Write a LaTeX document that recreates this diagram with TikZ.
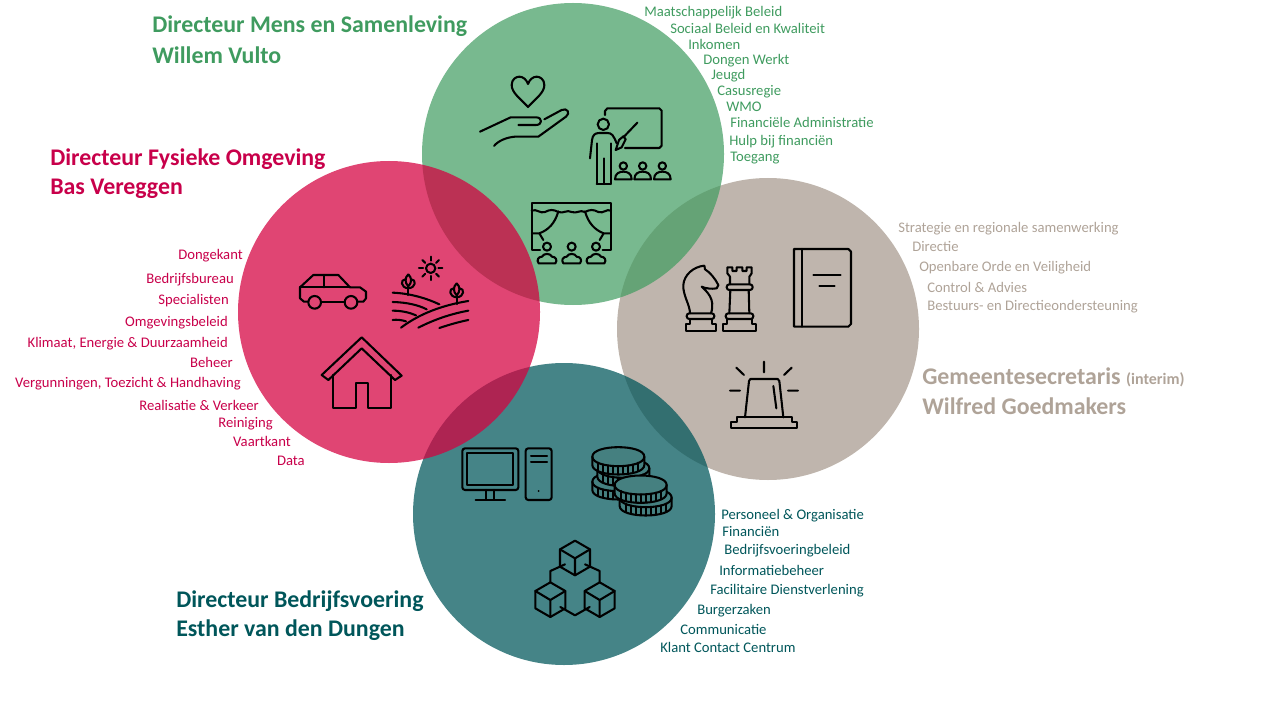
\documentclass[tikz,border=0pt]{standalone}
\usepackage{fontspec}
\setmainfont{Carlito}
\definecolor{mensgreen}{HTML}{3F9B5F}
\definecolor{fysiekred}{HTML}{C8004A}
\definecolor{fysiekfill}{HTML}{D4003F}
\definecolor{secrgray}{HTML}{AFA398}
\definecolor{bvteal}{HTML}{00565A}
\definecolor{coinfill}{HTML}{458080}
\tikzstyle{icon} = [line width=1.55pt, draw=black, line join=round, line cap=round]
\tikzstyle{title} = [anchor=west, inner sep=0pt, yshift=-1.2pt, font=\fontsize{17.9}{20}\selectfont\bfseries]
\tikzstyle{item} = [inner sep=0pt, yshift=-1.9pt, font=\fontsize{11}{13}\selectfont, text height=6.5pt, text depth=1.5pt]
\newcommand{\coin}[2]{%
  \draw[icon, fill=coinfill] (#1-78,#2) .. controls (#1-78,#2-38) and (#1+78,#2-38) .. (#1+78,#2)
    -- (#1+78,#2+25) .. controls (#1+78,#2+63) and (#1-78,#2+63) .. (#1-78,#2+25) -- cycle;
  \draw[icon] (#1-78,#2) .. controls (#1-78,#2+38) and (#1+78,#2+38) .. (#1+78,#2);
  \foreach \t in {-60,-45,-30,-15,0,15,30,45,60}
    \draw[icon] ({#1+\t},{#2+28*sqrt(1-(\t/78)^2)}) -- ({#1+\t},{#2+25+28*sqrt(1-(\t/78)^2)});
}
\newcommand{\person}[1]{%
  \draw[icon] (#1,318) circle[radius=11];
  \draw[icon] (#1-25,358) .. controls (#1-25,340) and (#1-12,335) .. (#1,335) .. controls (#1+12,335) and (#1+25,340) .. (#1+25,358) -- cycle;
}
\newcommand{\viewer}[1]{%
  \draw[icon] (#1,560) circle[radius=12];
  \draw[icon] (#1-25,610) .. controls (#1-33,600) and (#1-25,590) .. (#1-15,590) .. controls (#1-10,579) and (#1+10,579) .. (#1+15,590) .. controls (#1+25,590) and (#1+33,600) .. (#1+25,610) -- cycle;
}
\newcommand{\plant}[2]{%
  \draw[icon] (#1,#2+62) -- (#1,#2+36);
  \draw[icon] (#1,#2) .. controls (#1-11,#2+10) and (#1-11,#2+25) .. (#1,#2+36) .. controls (#1+11,#2+25) and (#1+11,#2+10) .. (#1,#2);
  \draw[icon] (#1-9,#2+15) .. controls (#1-24,#2+15) and (#1-24,#2+40) .. (#1,#2+42) .. controls (#1+24,#2+40) and (#1+24,#2+15) .. (#1+9,#2+15);
}
\newcommand{\cube}[2]{%
  \draw[icon] (#1,#2-53) -- (#1+45,#2-27) -- (#1+45,#2+25) -- (#1,#2+51) -- (#1-45,#2+25) -- (#1-45,#2-27) -- cycle;
  \draw[icon] (#1-45,#2-27) -- (#1,#2) -- (#1+45,#2-27) (#1,#2) -- (#1,#2+51);
}
\begin{document}
\begin{tikzpicture}[x=0.75pt, y=-0.75pt]
  \useasboundingbox (0,0) rectangle (1276,720);

  % Circles
  \fill[secrgray, fill opacity=0.8] (768,329) circle[radius=151];
  \fill[bvteal, fill opacity=0.73] (564,514) circle[radius=151];
  \fill[mensgreen, fill opacity=0.7] (573,154) circle[radius=151];
  \fill[fysiekfill, fill opacity=0.73] (389,312) circle[radius=151];

  % Titles
  \node (mens1) [title, text=mensgreen] at (152,25) {Directeur Mens en Samenleving};
  \node (mens2) [title, text=mensgreen] at (152,54) {Willem Vulto};
  \node (fys1) [title, text=fysiekred] at (50,158) {Directeur Fysieke Omgeving};
  \node (fys2) [title, text=fysiekred] at (50,187) {Bas Vereggen};
  \node (secr1) [title, text=secrgray] at (922,376) {Gemeentesecretaris {\fontsize{12}{14}\selectfont(interim)}};
  \node (secr2) [title, text=secrgray] at (922,405) {Wilfred Goedmakers};
  \node (bv1) [title, text=bvteal] at (176,600) {Directeur Bedrijfsvoering};
  \node (bv2) [title, text=bvteal] at (176,629) {Esther van den Dungen};

  % Green list
  \node (g1) [item, anchor=west, text=mensgreen] at (644,11) {Maatschappelijk Beleid};
  \node (g2) [item, anchor=west, text=mensgreen] at (670,28) {Sociaal Beleid en Kwaliteit};
  \node (g3) [item, anchor=west, text=mensgreen] at (688,44) {Inkomen};
  \node (g4) [item, anchor=west, text=mensgreen] at (703,59) {Dongen Werkt};
  \node (g5) [item, anchor=west, text=mensgreen] at (711,74) {Jeugd};
  \node (g6) [item, anchor=west, text=mensgreen] at (717,90) {Casusregie};
  \node (g7) [item, anchor=west, text=mensgreen] at (726,106) {WMO};
  \node (g8) [item, anchor=west, text=mensgreen] at (730,122) {Financiële Administratie};
  \node (g9) [item, anchor=west, text=mensgreen] at (729,140) {Hulp bij financiën};
  \node (g10) [item, anchor=west, text=mensgreen] at (730,156) {Toegang};

  % Red list
  \node (r1) [item, anchor=east, text=fysiekred] at (243,254) {Dongekant};
  \node (r2) [item, anchor=east, text=fysiekred] at (234,278) {Bedrijfsbureau};
  \node (r3) [item, anchor=east, text=fysiekred] at (229,299) {Specialisten};
  \node (r4) [item, anchor=east, text=fysiekred] at (228,321) {Omgevingsbeleid};
  \node (r5) [item, anchor=east, text=fysiekred] at (228,342) {Klimaat, Energie \& Duurzaamheid};
  \node (r6) [item, anchor=east, text=fysiekred] at (233,362) {Beheer};
  \node (r7) [item, anchor=east, text=fysiekred] at (241,382) {Vergunningen, Toezicht \& Handhaving};
  \node (r8) [item, anchor=east, text=fysiekred] at (259,405) {Realisatie \& Verkeer};
  \node (r9) [item, anchor=east, text=fysiekred] at (273,422) {Reiniging};
  \node (r10) [item, anchor=east, text=fysiekred] at (291,441) {Vaartkant};
  \node (r11) [item, anchor=east, text=fysiekred] at (305,460) {Data};

  % Gray list
  \node (s1) [item, anchor=west, text=secrgray] at (898,227) {Strategie en regionale samenwerking};
  \node (s2) [item, anchor=west, text=secrgray] at (912,246) {Directie};
  \node (s3) [item, anchor=west, text=secrgray] at (919,266) {Openbare Orde en Veiligheid};
  \node (s4) [item, anchor=west, text=secrgray] at (927,287) {Control \& Advies};
  \node (s5) [item, anchor=west, text=secrgray] at (927,305) {Bestuurs- en Directieondersteuning};

  % Teal list
  \node (b1) [item, anchor=west, text=bvteal] at (721,514) {Personeel \& Organisatie};
  \node (b2) [item, anchor=west, text=bvteal] at (722,531) {Financiën};
  \node (b3) [item, anchor=west, text=bvteal] at (724,549) {Bedrijfsvoeringbeleid};
  \node (b4) [item, anchor=west, text=bvteal] at (719,570) {Informatiebeheer};
  \node (b5) [item, anchor=west, text=bvteal] at (710,589) {Facilitaire Dienstverlening};
  \node (b6) [item, anchor=west, text=bvteal] at (697,609) {Burgerzaken};
  \node (b7) [item, anchor=west, text=bvteal] at (680,629) {Communicatie};
  \node (b8) [item, anchor=west, text=bvteal] at (660,647) {Klant Contact Centrum};

  % Icons green circle
  \begin{scope}[shift={(460,60)}, x=0.25pt, y=-0.25pt]
    % Heart and hand
    \draw[icon] (204,141) .. controls (180,115) and (155,98) .. (155,75) .. controls (155,58) and (168,50) .. (178,50) .. controls (190,50) and (200,60) .. (204,72) .. controls (208,60) and (218,50) .. (230,50) .. controls (240,50) and (253,58) .. (253,75) .. controls (253,98) and (228,115) .. (204,141) -- cycle;
    \draw[icon] (60,215) -- (152,172) -- (228,172) .. controls (248,172) and (248,195) .. (228,195) -- (175,195);
    \draw[icon] (253,178) -- (305,150) .. controls (322,142) and (332,160) .. (318,170) -- (235,230) -- (165,230) .. controls (140,232) and (115,242) .. (102,258);
    % Teacher
    \draw[icon] (435,165) -- (435,153) -- (442,145) -- (598,145) -- (605,152) -- (605,257) -- (598,264) -- (495,264);
    \draw[icon] (430,193) circle[radius=17];
    \draw[icon] (390,295) -- (396,240) .. controls (398,225) and (405,219) .. (418,219) -- (442,219) .. controls (455,219) and (460,225) .. (470,250);
    \draw[icon] (410,372) -- (410,250) (452,372) -- (452,250) (410,372) -- (452,372) (431,372) -- (431,295);
    \draw[icon] (532,188) -- (490,232);
    \draw[icon] (467,270) -- (477,240) -- (490,229) -- (497,238) -- (485,262) -- cycle;
    \person{490} \person{548} \person{607}
    % Theatre
    \draw[icon] (240,570) -- (215,570) -- (215,428) -- (453,428) -- (453,570) -- (428,570);
    \draw[icon] (215,452) .. controls (230,445) and (240,462) .. (255,456) .. controls (270,448) and (280,448) .. (295,456) .. controls (310,462) and (320,448) .. (335,456) .. controls (350,462) and (360,448) .. (375,456) .. controls (390,448) and (400,448) .. (415,456) .. controls (430,462) and (440,445) .. (453,452);
    \draw[icon] (295,454) .. controls (285,490) and (265,510) .. (238,520) -- (216,520) (238,520) -- (250,540);
    \draw[icon] (375,454) .. controls (385,490) and (405,510) .. (431,520) -- (452,520) (431,520) -- (419,540);
    \viewer{261} \viewer{335} \viewer{408}
  \end{scope}

  % Icons red circle
  \begin{scope}[shift={(280,240)}, x=0.25pt, y=-0.25pt]
    % Car
    \draw[icon] (84,185) -- (72,185) -- (60,175) -- (60,142) -- (100,105) -- (175,105) -- (210,142) -- (240,142) -- (258,155) -- (258,175) -- (250,185) -- (235,185);
    \draw[icon] (60,142) -- (210,142) (132,105) -- (132,142) (125,185) -- (192,185);
    \draw[icon] (104,187) circle[radius=19];
    \draw[icon] (213,187) circle[radius=19];
    % Field
    \draw[icon] (452,85) circle[radius=14];
    \foreach \a in {0,45,...,315}
      \draw[icon] ({452+23*cos(\a)},{85+23*sin(\a)}) -- ({452+35*cos(\a)},{85+35*sin(\a)});
    \plant{385}{103} \plant{530}{130}
    \draw[icon] (338,158) .. controls (390,160) and (440,175) .. (478,193);
    \draw[icon] (338,186) .. controls (380,187) and (415,195) .. (440,208);
    \draw[icon] (338,212) .. controls (365,212) and (390,218) .. (408,226);
    \draw[icon] (338,240) .. controls (350,238) and (365,240) .. (378,244);
    \draw[icon] (363,263) .. controls (420,220) and (490,195) .. (565,183);
    \draw[icon] (415,263) .. controls (460,240) and (510,222) .. (565,212);
    \draw[icon] (478,264) .. controls (505,255) and (535,246) .. (565,240);
    % House
    \draw[icon] (245,292) -- (365,407) -- (345,420) -- (245,325) -- (145,420) -- (125,405) -- cycle;
    \draw[icon] (160,405) -- (160,503) -- (227,503) -- (227,430) -- (263,430) -- (263,503) -- (333,503) -- (333,405);
  \end{scope}

  % Icons gray circle
  \begin{scope}[shift={(670,235)}, x=0.25pt, y=-0.25pt]
    % Knight
    \draw[icon] (47,288) -- (138,288) -- (138,268) -- (125,268) -- (125,252) -- (60,252) -- (60,268) -- (47,268) -- cycle;
    \draw[icon, rounded corners=2pt] (50,235) rectangle (133,252);
    \draw[icon] (60,235) .. controls (60,210) and (38,180) .. (40,150) .. controls (42,120) and (70,95) .. (103,92) -- (105,103) .. controls (120,112) and (135,130) .. (145,150) -- (140,160) .. controls (125,163) and (105,160) .. (95,155) .. controls (110,170) and (137,190) .. (123,235);
    % Rook
    \draw[icon] (160,288) -- (258,288) -- (258,268) -- (245,268) -- (245,252) -- (172,252) -- (172,268) -- (160,268) -- cycle;
    \draw[icon, rounded corners=2pt] (167,235) rectangle (250,252);
    \draw[icon, rounded corners=2pt] (170,148) rectangle (248,165);
    \draw[icon] (178,235) -- (181,165) (238,235) -- (236,165);
    \draw[icon] (180,148) -- (180,125) -- (172,115) -- (172,97) -- (187,97) -- (187,108) -- (200,108) -- (200,97) -- (217,97) -- (217,108) -- (230,108) -- (230,97) -- (245,97) -- (245,115) -- (238,125) -- (238,148);
    % Book
    \draw[icon] (372,42) -- (535,42) -- (543,50) -- (543,267) -- (535,275) -- (372,275) -- cycle;
    \draw[icon] (397,42) -- (397,275) (430,120) -- (512,120) (448,152) -- (494,152);
    % Siren
    \draw[icon] (282,380) -- (282,412) (199,398) -- (222,420) (365,398) -- (342,420) (180,467) -- (210,467) (354,467) -- (384,467);
    \draw[icon] (225,547) -- (237,438) -- (241,432) -- (323,432) -- (328,438) -- (340,547);
    \draw[icon] (310,453) -- (319,520);
    \draw[icon] (200,547) -- (365,547) -- (365,562) -- (382,562) -- (382,578) -- (183,578) -- (183,562) -- (200,562) -- cycle;
  \end{scope}

  % Icons teal circle
  \begin{scope}[shift={(450,435)}, x=0.25pt, y=-0.25pt]
    % Computer
    \draw[icon, rounded corners=2pt] (37,40) rectangle (205,165);
    \draw[icon] (52,55) rectangle (190,150);
    \draw[icon] (108,165) -- (108,193) (133,165) -- (133,193) (77,194) -- (165,194);
    \draw[icon, rounded corners=2pt] (227,40) rectangle (305,195);
    \draw[icon] (243,62) -- (291,62) (243,80) -- (291,80);
    \fill (266,168) circle[radius=3];
    % Coins
    \coin{505}{140} \coin{520}{100} \coin{505}{65}
    \coin{587}{188} \coin{572}{150}
    % Blocks
    \cube{375}{370} \cube{301}{495} \cube{449}{495}
    \draw[icon] (345,388) -- (301,408) -- (301,442);
    \draw[icon] (405,388) -- (449,408) -- (449,442);
    \draw[icon] (331,516) -- (375,541) -- (419,516);
  \end{scope}
\end{tikzpicture}
\end{document}
